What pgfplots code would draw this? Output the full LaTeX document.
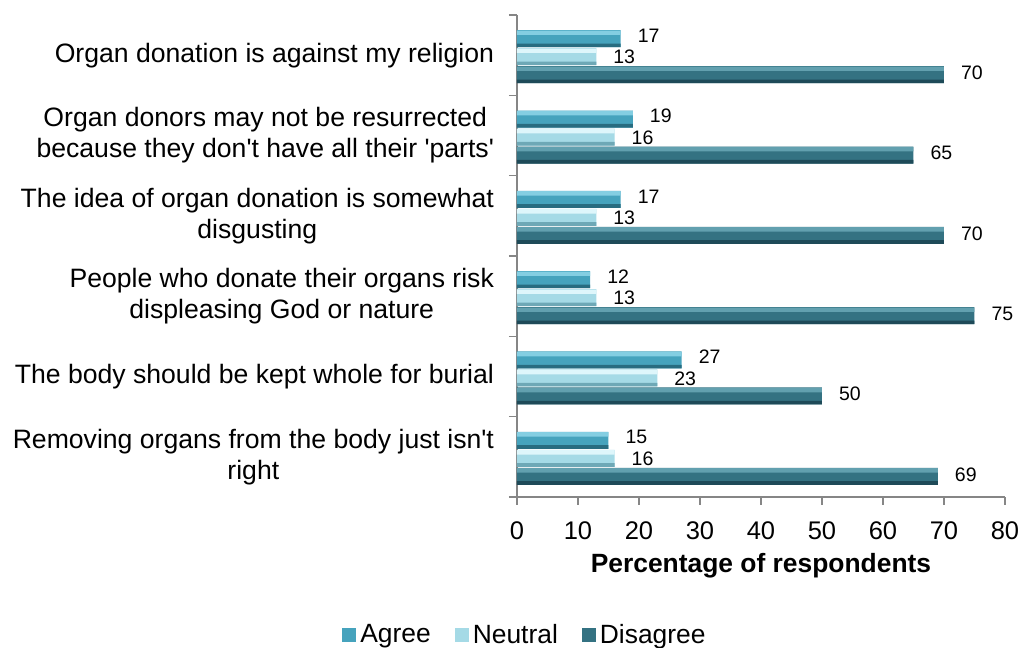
\documentclass[border=0pt]{standalone}
\usepackage{fontspec}
\setmainfont{Liberation Sans}[Ligatures=TeXOff]
\usepackage{pgfplots}
\pgfplotsset{compat=1.18}
\definecolor{AxisGray}{RGB}{134,134,134}
\definecolor{AgreeTop}{RGB}{132,206,226}
\definecolor{AgreeMid}{RGB}{70,163,189}
\definecolor{AgreeBot}{RGB}{40,108,128}
\definecolor{NeutTop}{RGB}{222,246,251}
\definecolor{NeutMid}{RGB}{165,218,230}
\definecolor{NeutBot}{RGB}{110,168,182}
\definecolor{DisTop}{RGB}{98,160,175}
\definecolor{DisMid}{RGB}{52,114,130}
\definecolor{DisBot}{RGB}{30,74,88}

% bevel strips drawn over each bar
\pgfplotsset{
  strip/.style={xbar, draw=none, forget plot, bar width=2.2pt},
}

\begin{document}
\begin{tikzpicture}
\path[use as bounding box] (0,0) rectangle (512.5pt,324pt);
\begin{axis}[
    at={(258.5pt,75.5pt)}, anchor=south west,
    scale only axis, width=244pt, height=241pt,
    xmin=0, xmax=80, ymin=-0.5, ymax=5.5,
    axis x line*=bottom, axis y line*=left,
    axis line style={draw=AxisGray, line width=0.7pt},
    tick align=outside, major tick length=4pt,
    tick style={draw=AxisGray, line width=0.7pt},
    xtick={0,10,...,80},
    ytick={-0.5,0.5,...,5.5}, yticklabels={},
    extra y ticks={0,1,2,3,4,5},
    extra y tick labels={
      {Removing organs from the body just isn't\\right},
      {The body should be kept whole for burial},
      {People who donate their organs risk\\displeasing God or nature},
      {The idea of organ donation is somewhat\\disgusting},
      {Organ donors may not be resurrected\\because they don't have all their 'parts'},
      {Organ donation is against my religion}},
    extra y tick style={major tick length=0pt,
      yticklabel style={align=center, font=\fontsize{13.3}{15.4}\selectfont, xshift=-8pt}},
    /pgf/number format/assume math mode=true,
    xticklabel style={font=\fontsize{12.75}{15}\selectfont, yshift=-5pt},
    xlabel={Percentage of respondents},
    xlabel style={at={(axis description cs:0.5,-0.143)}, anchor=center,
      font=\fontsize{13.2}{15}\selectfont\bfseries},
    point meta=x,
    nodes near coords style={font=\fontsize{9.75}{11}\selectfont, text=black,
      anchor=west, xshift=5pt},
    legend columns=3,
    legend style={at={(0.0184,-0.2863)}, anchor=center, draw=none, fill=none,
      font=\fontsize{13.2}{15}\selectfont,
      /tikz/every even column/.append style={column sep=10pt}},
    legend image code/.code={\fill[#1] (0pt,-3.5pt) rectangle (7pt,3.5pt);},
  ]
  % Agree
  \addplot[xbar, bar width=8.5pt, bar shift=8.25pt, draw=none, fill=AgreeMid,
    nodes near coords, every node near coord/.append style={yshift=9.75pt}]
    coordinates {(15,0) (27,1) (12,2) (17,3) (19,4) (17,5)};
  \addlegendentry{Agree}
  % Neutral
  \addplot[xbar, bar width=8.5pt, bar shift=-0.75pt, draw=none, fill=NeutMid,
    nodes near coords, every node near coord/.append style={yshift=-1pt}]
    coordinates {(16,0) (23,1) (13,2) (13,3) (16,4) (13,5)};
  \addlegendentry{Neutral}
  % Disagree
  \addplot[xbar, bar width=8.5pt, bar shift=-9.75pt, draw=none, fill=DisMid,
    nodes near coords, every node near coord/.append style={yshift=-8.75pt}]
    coordinates {(69,0) (50,1) (75,2) (70,3) (65,4) (70,5)};
  \addlegendentry{Disagree}

  % light top strips
  \addplot[strip, bar shift=11.2pt, fill=AgreeTop]
    coordinates {(15,0) (27,1) (12,2) (17,3) (19,4) (17,5)};
  \addplot[strip, bar shift=2.2pt, fill=NeutTop]
    coordinates {(16,0) (23,1) (13,2) (13,3) (16,4) (13,5)};
  \addplot[strip, bar shift=-6.8pt, fill=DisTop]
    coordinates {(69,0) (50,1) (75,2) (70,3) (65,4) (70,5)};
  % dark bottom strips
  \addplot[strip, bar width=1.8pt, bar shift=4.9pt, fill=AgreeBot]
    coordinates {(15,0) (27,1) (12,2) (17,3) (19,4) (17,5)};
  \addplot[strip, bar width=1.8pt, bar shift=-4.1pt, fill=NeutBot]
    coordinates {(16,0) (23,1) (13,2) (13,3) (16,4) (13,5)};
  \addplot[strip, bar width=1.8pt, bar shift=-13.1pt, fill=DisBot]
    coordinates {(69,0) (50,1) (75,2) (70,3) (65,4) (70,5)};
\end{axis}
\end{tikzpicture}
\end{document}
